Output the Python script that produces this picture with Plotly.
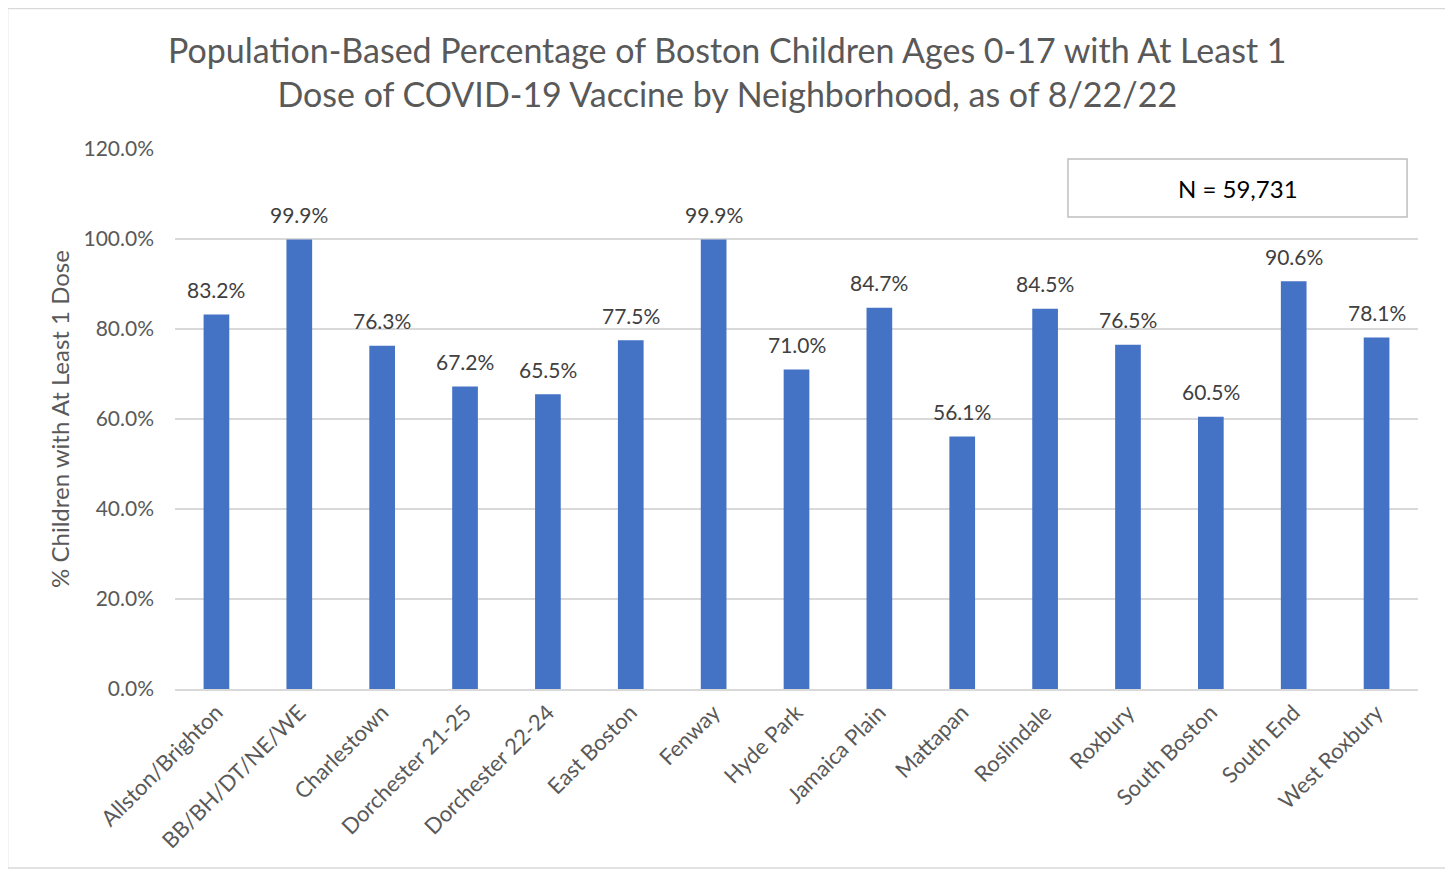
import plotly.graph_objects as go


# ---------------------------------------------------
# DATA
# ---------------------------------------------------

neighborhoods = [
    "Allston/Brighton",
    "BB/BH/DT/NE/WE",
    "Charlestown",
    "Dorchester 21-25",
    "Dorchester 22-24",
    "East Boston",
    "Fenway",
    "Hyde Park",
    "Jamaica Plain",
    "Mattapan",
    "Roslindale",
    "Roxbury",
    "South Boston",
    "South End",
    "West Roxbury",
]

pct_one_dose = [
    0.832, 0.999, 0.763, 0.672, 0.655,
    0.775, 0.999, 0.710, 0.847, 0.561,
    0.845, 0.765, 0.605, 0.906, 0.781,
]

total_n = "N = 59,731"

title_text = (
    "Population-Based Percentage of Boston Children Ages 0-17 with At Least 1"
    "<br>Dose of COVID-19 Vaccine by Neighborhood, as of 8/22/22"
)


# ---------------------------------------------------
# CHART
# ---------------------------------------------------

font_family = "Lato, 'Open Sans', sans-serif"

fig = go.Figure()

fig.add_trace(go.Bar(
    x=neighborhoods,
    y=pct_one_dose,
    marker=dict(color="#4472C4", line=dict(width=0)),
    cliponaxis=False,
))

# data labels a bit above the bars, like the Excel original
for name, value in zip(neighborhoods, pct_one_dose):
    fig.add_annotation(
        x=name, y=value,
        text=f"{value * 100:.1f}%",
        showarrow=False,
        xanchor="center", yanchor="middle",
        yshift=25,
        font=dict(size=21, color="#404040", family=font_family),
    )

fig.update_layout(
    width=1445,
    height=861,
    paper_bgcolor="white",
    plot_bgcolor="white",
    margin=dict(l=167, r=35, t=141, b=180),
    bargap=0.69,
    showlegend=False,
    font=dict(family=font_family, color="#595959"),
    yaxis=dict(
        range=[0, 1.2],
        dtick=0.2,
        tickformat=".1%",
        showgrid=True,
        gridcolor="#D9D9D9",
        gridwidth=1.5,
        zeroline=False,
        showline=False,
        ticks="",
        ticklabelstandoff=20,
        tickfont=dict(size=21, color="#595959"),
        title=dict(
            text="% Children with At Least 1 Dose",
            font=dict(size=24, color="#595959"),
            standoff=7,
        ),
    ),
    xaxis=dict(
        tickangle=-45,
        showline=True,
        linecolor="#D9D9D9",
        linewidth=2,
        ticks="",
        tickfont=dict(size=22, color="#595959"),
    ),
)

# title
fig.add_annotation(
    xref="paper", yref="paper",
    x=(727 - 175) / 1243, y=1.1426,
    xanchor="center", yanchor="middle",
    text=title_text, showarrow=False,
    font=dict(size=34, color="#595959", family=font_family),
)

# N box
fig.add_shape(
    type="rect", xref="paper", yref="paper",
    x0=0.7184, x1=0.9912, y0=0.874, y1=0.9815,
    line=dict(color="#BFBFBF", width=1.5),
    fillcolor="white",
)
fig.add_annotation(
    xref="paper", yref="paper",
    x=(0.7184 + 0.9912) / 2, y=(0.874 + 0.9815) / 2,
    xanchor="center", yanchor="middle",
    text=total_n, showarrow=False,
    font=dict(size=24, color="#000000", family=font_family),
)

# outer chart border
fig.add_shape(
    type="rect", xref="paper", yref="paper",
    x0=-0.1347, x1=1.0225, y0=-0.3315, y1=1.2602,
    line=dict(color="#D9D9D9", width=1.5),
    layer="below",
)

fig.write_html("out.html")
